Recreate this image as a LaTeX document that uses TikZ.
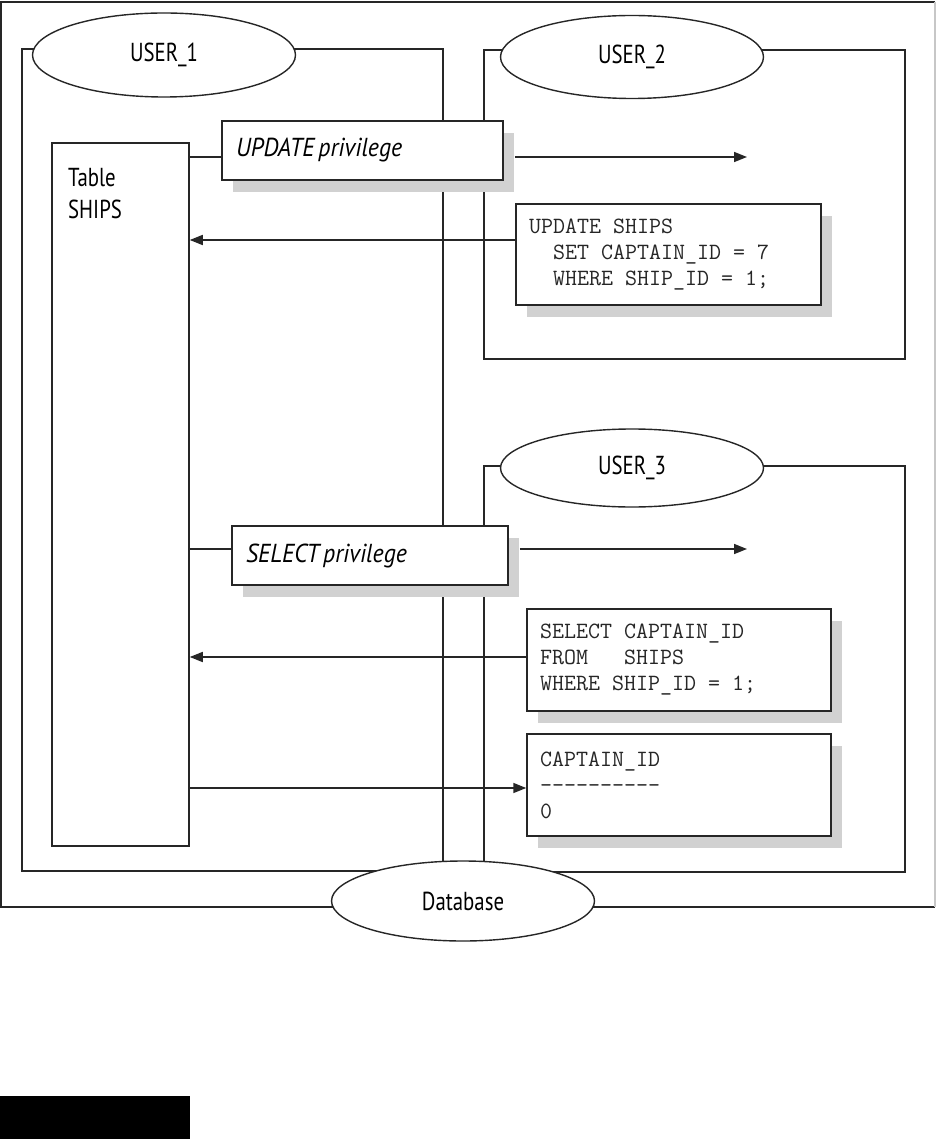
\documentclass[tikz,border=0pt]{standalone}
\usepackage{fontspec}
\setmainfont{PT Sans}[FakeStretch=0.8]
\newfontfamily\privfont{PT Sans}[FakeStretch=0.92]
\newcommand\spc{\phantom{X}}
\usetikzlibrary{shadows,arrows.meta,shapes.geometric}
\begin{document}
\begin{tikzpicture}[x=1pt,y=-1pt,
  ln/.style={draw=black!85,line width=1.5pt},
  userell/.style={ellipse, draw=black!85, line width=1.4pt, fill=white, minimum width=263pt, inner sep=0pt, font=\fontsize{26}{30}\selectfont},
  sbox/.style={rectangle, draw=black!85, line width=1.5pt, fill=white, drop shadow={shadow xshift=11pt,shadow yshift=-12pt,fill=black!18,opacity=1}},
  privbox/.style={sbox, minimum height=59pt, inner xsep=14pt, inner ysep=0pt, align=left, font=\privfont\fontsize{26}{30}\selectfont\itshape},
  sqlbox/.style={sbox, inner xsep=13pt, inner ysep=0pt, align=left, text=black!85, font=\fontsize{23.3}{26}\selectfont\ttfamily},
  conn/.style={draw=black!85, line width=1.6pt},
  arr/.style={conn, -{Triangle[length=13pt,width=10pt]}}]

\useasboundingbox (0,0) rectangle (937,1139);

% frames
\draw[ln] (935,2) -- (1,2) -- (1,907) -- (935,907);
\draw[draw=black!22,line width=1.5pt] (935,2) -- (935,907);
\draw[ln] (22,49) rectangle (443,871);
\draw[ln] (484,50) rectangle (905,359);
\draw[ln] (484,466) rectangle (905,872);

% ellipses
\node[userell, minimum height=84pt] (u1) at (164,55) {USER\_1};
\node[userell, minimum height=83pt] (u2) at (632,57) {USER\_2};
\node[userell, minimum height=78pt] (u3) at (632,468) {USER\_3};
\node[userell, minimum height=80pt] (db) at (463,901) {Database};

% table
\node[draw=black!85, line width=1.5pt, fill=white, minimum width=137pt, minimum height=703pt, inner sep=0pt] (tbl) at (120.5,494.5) {};
\node[anchor=north west, inner sep=0pt, align=left, font=\fontsize{26}{32}\selectfont] (tbltxt) at (68,168) {Table\\SHIPS};

% privilege boxes
\node[privbox, text width=253pt] (updp) at (362.5,150.5) {UPDATE\hspace{0.15em}privilege};
\node[privbox, text width=248pt] (selp) at (370,555.5) {SELECT\hspace{0.15em}privilege};

% sql boxes
\node[sqlbox, text width=279pt, minimum height=101pt] (updsql) at (668.5,254.5)
  {UPDATE\spc SHIPS\\\spc\spc SET\spc CAPTAIN\_ID\spc =\spc 7\\\spc\spc WHERE\spc SHIP\_ID\spc =\spc 1;};
\node[sqlbox, text width=278pt, minimum height=102pt] (selsql) at (679,660)
  {SELECT\spc CAPTAIN\_ID\\FROM\spc\spc\spc SHIPS\\WHERE\spc SHIP\_ID\spc =\spc 1;};
\node[sqlbox, text width=278pt, minimum height=102pt] (res) at (679,785)
  {CAPTAIN\_ID\\----------\\0};

% connectors
\coordinate (ua) at ([yshift=-6.5pt]updp.west);
\coordinate (ub) at ([xshift=11pt,yshift=-6.5pt]updp.east);
\coordinate (uend) at (747,157);
\draw[conn] (tbl.east |- ua) -- (ua);
\draw[arr] (ub) -- (uend);

\coordinate (uq) at ([yshift=14.5pt]updsql.west);
\draw[arr] (uq) -- (tbl.east |- uq);

\coordinate (sa) at ([yshift=6.5pt]selp.west);
\coordinate (sb) at ([xshift=11pt,yshift=6.5pt]selp.east);
\coordinate (send) at (747,549);
\draw[conn] (tbl.east |- sa) -- (sa);
\draw[arr] (sb) -- (send);

\coordinate (sq) at ([yshift=3pt]selsql.west);
\draw[arr] (sq) -- (tbl.east |- sq);

\coordinate (rq) at ([yshift=-3pt]res.west);
\draw[arr] (tbl.east |- rq) -- (rq);

% black bar
\fill[black] (0,1096) rectangle (190,1139);
\end{tikzpicture}
\end{document}
